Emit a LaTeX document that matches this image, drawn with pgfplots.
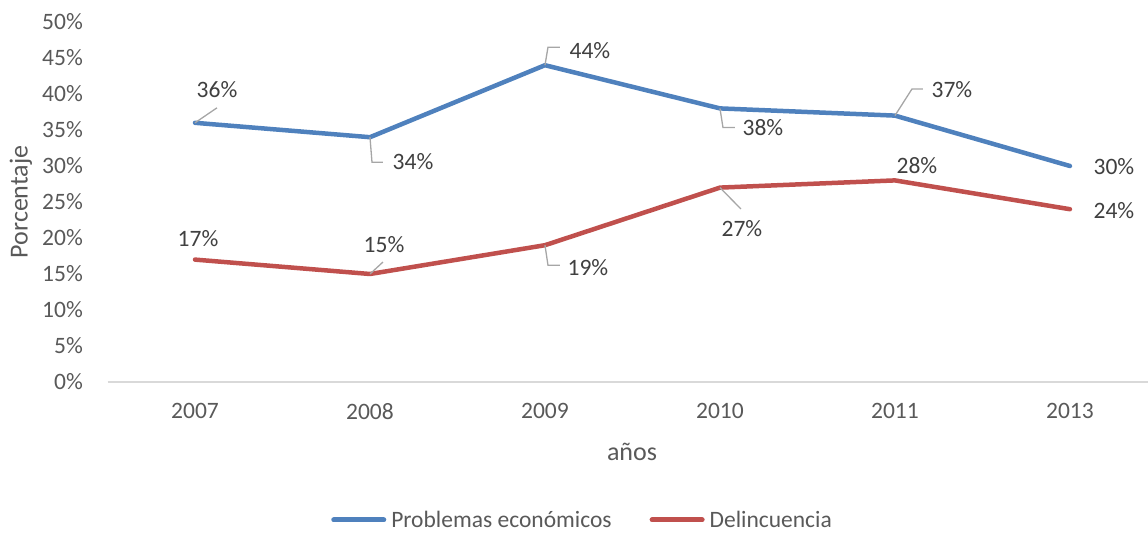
\documentclass[border=0pt]{standalone}
\usepackage{fontspec}
\setmainfont{Carlito}
\usepackage{pgfplots}
\pgfplotsset{compat=1.18}
\definecolor{txt}{HTML}{595959}
\definecolor{lbltxt}{HTML}{404040}
\definecolor{blu}{HTML}{4F81BD}
\definecolor{rd}{HTML}{C0504D}
\definecolor{axl}{HTML}{D9D9D9}
\definecolor{lead}{HTML}{A6A6A6}
\tikzset{
  lbl/.style={font=\fontsize{23.5}{28}\selectfont, text=lbltxt, inner sep=0pt},
  ld/.style={draw=lead, line width=1.3pt},
}
\begin{document}
\begin{tikzpicture}
\useasboundingbox (0,0) rectangle (1148pt,533pt);
\begin{axis}[
  at={(107.5pt,151pt)}, anchor=south west,
  width=1040.5pt, height=360pt, scale only axis,
  clip=false,
  xmin=-0.5, xmax=5.446, ymin=0, ymax=50,
  axis x line*=bottom, axis y line*=left,
  separate axis lines,
  x axis line style={draw=axl, line width=1.5pt, -},
  y axis line style={draw=none},
  xtick={0,...,5}, xticklabels={2007,2008,2009,2010,2011,2013},
  ytick={0,5,...,50},
  yticklabel={\pgfmathprintnumber{\tick}\%},
  /pgf/number format/assume math mode=true,
  major tick length=0pt,
  tick label style={font=\fontsize{23.5}{28}\selectfont, text=txt},
  yticklabel style={anchor=east, inner sep=0pt, xshift=-24.5pt},
  xticklabel style={anchor=north, inner sep=0pt, yshift=-21pt},
  legend columns=2,
  legend style={at={(0.4556,-0.3833)}, anchor=center, draw=none, fill=none,
    inner sep=0pt, font=\fontsize{23.5}{28}\selectfont, text=txt,
    nodes={inner sep=0pt},
    /tikz/every odd column/.append style={column sep=5pt},
    /tikz/every even column/.append style={column sep=38pt}},
  legend image code/.code={\draw[#1, line width=5pt, line cap=round] (2.5pt,0pt) -- (52.5pt,0pt);},
]
\addplot[blu, line width=4.5pt, line cap=round, line join=round] coordinates {
  (0,36) (1,34) (2,44) (3,38) (4,37) (5,30)};
\addlegendentry{Problemas económicos}
\addplot[rd, line width=4.5pt, line cap=round, line join=round] coordinates {
  (0,17) (1,15) (2,19) (3,27) (4,28) (5,24)};
\addlegendentry{Delincuencia}

% leader lines
\draw[ld] (axis cs:0,36) -- ++(22pt,15pt);
\draw[ld] (axis cs:1,34) -- ++(2pt,-25pt) -- ++(11pt,0pt);
\draw[ld] (axis cs:2,44) -- ++(3pt,18pt) -- ++(12pt,0pt);
\draw[ld] (axis cs:3,38) -- ++(3pt,-19pt) -- ++(12pt,0pt);
\draw[ld] (axis cs:4,37) -- ++(17pt,26.6pt) -- ++(11pt,0pt);
\draw[ld] (axis cs:1,15) -- ++(13pt,12pt);
\draw[ld] (axis cs:2,19) -- ++(3pt,-20pt) -- ++(12pt,0pt);
\draw[ld] (axis cs:3,27) -- ++(21pt,-21.4pt);

% data labels
\node[lbl, xshift=22pt, yshift=33pt] at (axis cs:0,36) {36\%};
\node[lbl, xshift=43pt, yshift=-24pt] at (axis cs:1,34) {34\%};
\node[lbl, xshift=45pt, yshift=15pt] at (axis cs:2,44) {44\%};
\node[lbl, xshift=43pt, yshift=-19pt] at (axis cs:3,38) {38\%};
\node[lbl, xshift=57pt, yshift=26pt] at (axis cs:4,37) {37\%};
\node[lbl, xshift=44pt, yshift=-1pt] at (axis cs:5,30) {30\%};
\node[lbl, xshift=3pt, yshift=21pt] at (axis cs:0,17) {17\%};
\node[lbl, xshift=14pt, yshift=29pt] at (axis cs:1,15) {15\%};
\node[lbl, xshift=43pt, yshift=-22pt] at (axis cs:2,19) {19\%};
\node[lbl, xshift=22pt, yshift=-41pt] at (axis cs:3,27) {27\%};
\node[lbl, xshift=22pt, yshift=15pt] at (axis cs:4,28) {28\%};
\node[lbl, xshift=44pt, yshift=-1pt] at (axis cs:5,24) {24\%};
\end{axis}
\node[rotate=90, text=txt, font=\fontsize{26}{30}\selectfont, inner sep=0pt] at (21pt,331pt) {Porcentaje};
\node[text=txt, font=\fontsize{26}{30}\selectfont, inner sep=0pt] at (632pt,81pt) {años};
\end{tikzpicture}
\end{document}
